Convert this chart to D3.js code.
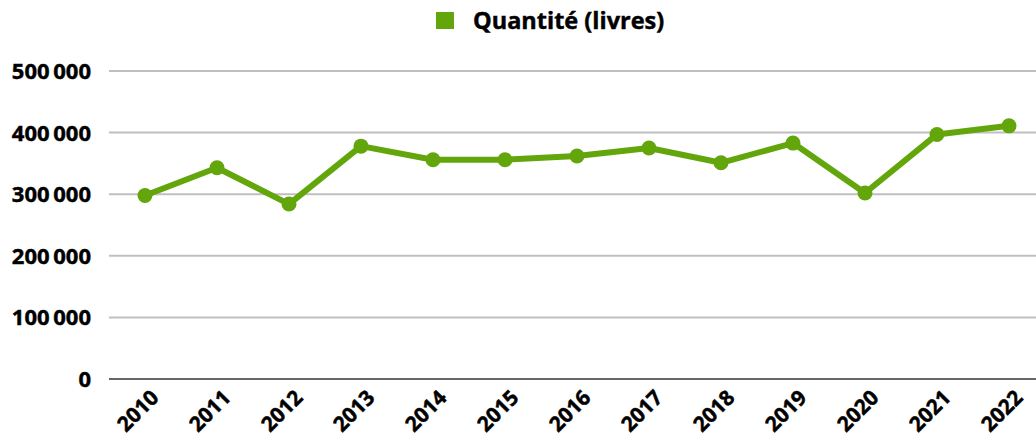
<!DOCTYPE html>
<html>
<head>
<meta charset="utf-8">
<script src="https://cdn.jsdelivr.net/npm/d3@7"></script>
<style>
  body { margin: 0; background: #fff; }
  text { font-family: "Open Sans", sans-serif; font-weight: bold; fill: #000;
         stroke: #000; stroke-width: 0.45px; }
</style>
</head>
<body>
<div id="chart"></div>
<script>
// data
const years = ["2010", "2011", "2012", "2013", "2014", "2015", "2016",
               "2017", "2018", "2019", "2020", "2021", "2022"]
const quantites = [298000, 343000, 284000, 378000, 356000, 356000, 362000,
                   375000, 351000, 383000, 302000, 397000, 411000]
const yTicks = [0, 100000, 200000, 300000, 400000, 500000]
const seriesName = "Quantité (livres)"

const width = 1036, height = 447
const margin = {top: 71, right: -9, bottom: 68, left: 109}
const green = "#63a60c"

const svg = d3.select("#chart").append("svg")
  .attr("width", width)
  .attr("height", height)

const xScale = d3.scaleBand().domain(years)
  .range([margin.left, width - margin.right])
const yScale = d3.scaleLinear().domain([0, 500000])
  .range([height - margin.bottom, margin.top])

// thin gap between thousands, like the reference
const fmt = v => d3.format(",")(v).replace(/,/g, "\u2009")

// gridlines
svg.append("g")
  .selectAll("line")
  .data(yTicks)
  .enter()
  .append("line")
  .attr("x1", margin.left)
  .attr("x2", width)
  .attr("y1", d => yScale(d))
  .attr("y2", d => yScale(d))
  .style("stroke", d => d === 0 ? "#666" : "#bfbfbf")
  .style("stroke-width", 2)

// y labels
svg.append("g")
  .selectAll("text")
  .data(yTicks)
  .enter()
  .append("text")
  .attr("x", 91)
  .attr("y", d => yScale(d))
  .attr("dy", "0.36em")
  .attr("text-anchor", "end")
  .style("font-size", "22px")
  .text(d => fmt(d))

// x labels, rotated
svg.append("g")
  .selectAll("text")
  .data(years)
  .enter()
  .append("text")
  .attr("text-anchor", "end")
  .attr("transform", d => `translate(${xScale(d) + xScale.bandwidth() / 2 + 15},${399})rotate(-45)`)
  .style("font-size", "21px")
  .text(d => d)

const cx = (d, i) => xScale(years[i]) + xScale.bandwidth() / 2

const line = d3.line()
  .x((d, i) => cx(d, i))
  .y(d => yScale(d))

svg.append("path")
  .datum(quantites)
  .attr("d", line)
  .style("fill", "none")
  .style("stroke", green)
  .style("stroke-width", 6)
  .style("stroke-linejoin", "round")

svg.append("g")
  .selectAll("circle")
  .data(quantites)
  .enter()
  .append("circle")
  .attr("cx", (d, i) => cx(d, i))
  .attr("cy", d => yScale(d))
  .attr("r", 7.5)
  .style("fill", green)

// legend
svg.append("rect")
  .attr("x", 436)
  .attr("y", 12)
  .attr("width", 18)
  .attr("height", 17)
  .style("fill", green)

svg.append("text")
  .attr("x", 473)
  .attr("y", 28.5)
  .style("font-size", "23.5px")
  .text(seriesName)
</script>
</body>
</html>
